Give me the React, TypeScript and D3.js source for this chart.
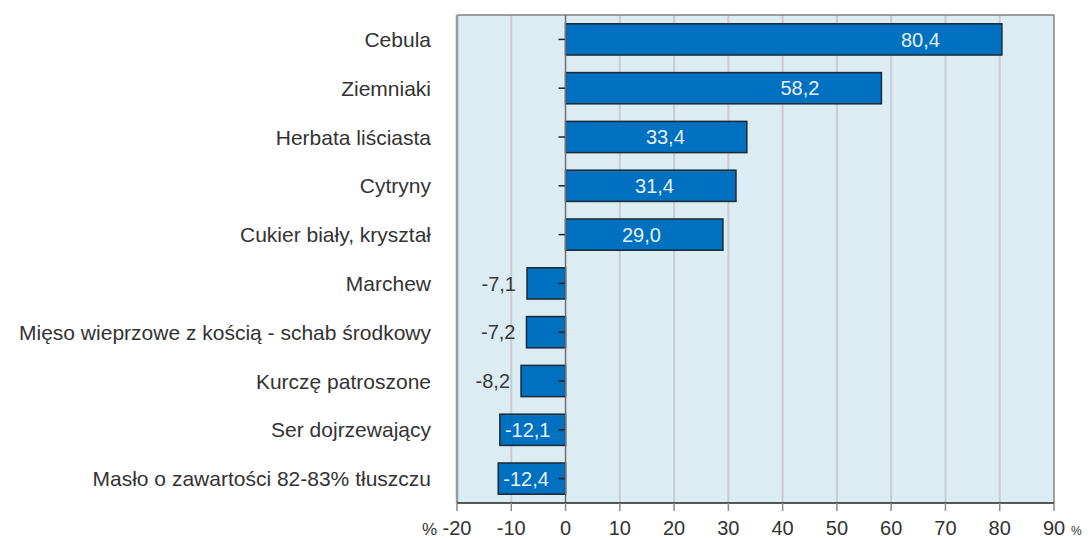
import React from 'react';
import * as d3 from 'd3';

// categories, top to bottom
const categories = [
  'Cebula',
  'Ziemniaki',
  'Herbata liściasta',
  'Cytryny',
  'Cukier biały, kryształ',
  'Marchew',
  'Mięso wieprzowe z kością - schab środkowy',
  'Kurczę patroszone',
  'Ser dojrzewający',
  'Masło o zawartości 82-83% tłuszczu',
];
const values = [80.4, 58.2, 33.4, 31.4, 29.0, -7.1, -7.2, -8.2, -12.1, -12.4];
const ticks = [-20, -10, 0, 10, 20, 30, 40, 50, 60, 70, 80, 90];

const W = 1088, H = 540;
const plot = { left: 457, right: 1054, top: 15, bottom: 503 };
const font = '"Liberation Sans", Arial, sans-serif';

const fmt = (v: number) => v.toFixed(1).replace('.', ',');

export default function App() {
  const x = d3.scaleLinear().domain([-20, 90]).range([plot.left, plot.right]);
  const y = d3.scaleBand<string>()
    .domain(categories)
    .range([plot.top, plot.bottom])
    .paddingInner(0.36)
    .paddingOuter(0.18);

  const bars = categories.map((c, i) => {
    const v = values[i];
    const x0 = x(Math.min(0, v));
    const x1 = x(Math.max(0, v));
    const yt = y(c)!;
    const cy = yt + y.bandwidth() / 2;
    let label;
    if (v > 0) {
      label = <text x={x1 - 62} y={cy} dy="0.36em" textAnchor="end" fill="#e6f0fa" fontSize={20}>{fmt(v)}</text>;
    } else if (v < -10) {
      label = <text x={x0 + 5} y={cy} dy="0.36em" textAnchor="start" fill="#e6f0fa" fontSize={20}>{fmt(v)}</text>;
    } else {
      label = <text x={x0 - 11} y={cy} dy="0.36em" textAnchor="end" fill="#3a3a3a" fontSize={20}>{fmt(v)}</text>;
    }
    return (
      <g key={c}>
        <rect x={x0} y={yt} width={x1 - x0} height={y.bandwidth()} fill="#0070c0" stroke="#1c2833" strokeWidth={1.5} />
        <line x1={x(0) - 7} x2={x(0)} y1={cy} y2={cy} stroke="#222" strokeWidth={1.5} />
        {label}
        <text x={431} y={cy} dy="0.36em" textAnchor="end" fill="#333" fontSize={21}>{c}</text>
      </g>
    );
  });

  return (
    <>
      <style>{'body{margin:0}'}</style>
      <svg width={W} height={H} style={{ display: 'block', fontFamily: font }}>
        <rect x={0} y={0} width={W} height={H} fill="#fff" />
        <rect x={plot.left} y={plot.top} width={plot.right - plot.left} height={plot.bottom - plot.top} fill="#dbedf3" />
        {ticks.filter(t => t !== 0 && t !== -20 && t !== 90).map(t => (
          <line key={t} x1={x(t)} x2={x(t)} y1={plot.top} y2={plot.bottom} stroke="#c6cccf" strokeWidth={2} />
        ))}
        {/* plot border */}
        <line x1={plot.left} x2={plot.right} y1={plot.top} y2={plot.top} stroke="#808080" strokeWidth={1.5} />
        <line x1={plot.left} x2={plot.left} y1={plot.top} y2={plot.bottom} stroke="#999" strokeWidth={2.5} />
        <line x1={plot.right} x2={plot.right} y1={plot.top} y2={plot.bottom} stroke="#808080" strokeWidth={1.5} />
        {bars}
        <line x1={x(0)} x2={x(0)} y1={plot.top} y2={plot.bottom} stroke="#707070" strokeWidth={1.5} />
        <line x1={plot.left} x2={plot.right} y1={plot.bottom} y2={plot.bottom} stroke="#222" strokeWidth={1.5} />
        {ticks.map(t => (
          <g key={t}>
            <line x1={x(t)} x2={x(t)} y1={plot.bottom} y2={plot.bottom + 8} stroke="#888" strokeWidth={1.5} />
            <text x={x(t)} y={528} dy="0.36em" textAnchor="middle" fill="#333" fontSize={20}>{t}</text>
          </g>
        ))}
        <text x={x(-20) - 20} y={529} dy="0.36em" textAnchor="end" fill="#333" fontSize={17}>%</text>
        <text x={x(90) + 17} y={531} dy="0.36em" textAnchor="start" fill="#333" fontSize={12}>%</text>
      </svg>
    </>
  );
}
